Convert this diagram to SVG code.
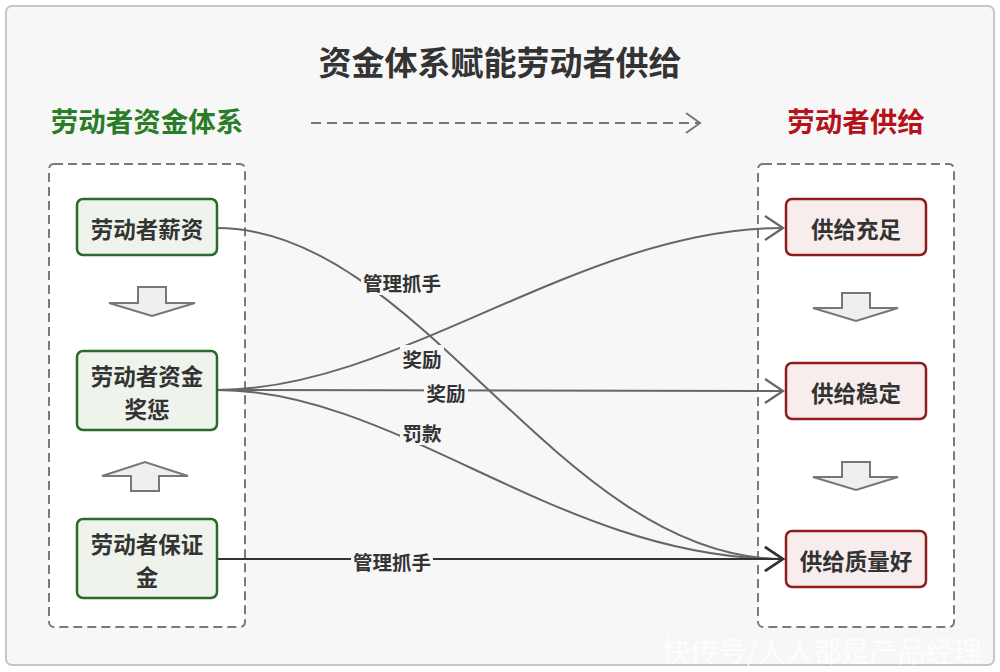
<svg xmlns="http://www.w3.org/2000/svg" width="1000" height="672" viewBox="0 0 1000 672">
<style>
text{font-family:"Noto Sans CJK SC","Noto Sans",sans-serif;font-weight:700;text-anchor:middle;dominant-baseline:central}
.title{font-size:33px;fill:#333}
.hl{font-size:27.5px;fill:#2a7d27}
.hr{font-size:27.5px;fill:#b5121b}
.nt{font-size:22.5px;fill:#333}
.lab{font-size:19.5px;fill:#333}
.cont{fill:#fff;stroke:#7a7a7a;stroke-width:2;stroke-dasharray:9 5}
.gn{fill:#eef3ec;stroke:#2b6a2b;stroke-width:2.5}
.rn{fill:#f8eded;stroke:#8e1c1c;stroke-width:2.5}
.blk{fill:#efefef;stroke:#777;stroke-width:2}
.ln{fill:none;stroke:#666;stroke-width:2}
.lbg{fill:#f7f7f7}
</style>
<defs>
<marker id="ah" markerUnits="userSpaceOnUse" markerWidth="24" markerHeight="30" refX="20" refY="14" orient="auto" viewBox="0 0 24 30">
<path d="M2,2 L20,14 L2,26" fill="none" stroke="#666" stroke-width="2.2"/>
</marker>
<marker id="ahd" markerUnits="userSpaceOnUse" markerWidth="24" markerHeight="30" refX="20" refY="14" orient="auto" viewBox="0 0 24 30">
<path d="M2,2 L20,14 L2,26" fill="none" stroke="#333" stroke-width="2.5"/>
</marker>
<marker id="ahs" markerUnits="userSpaceOnUse" markerWidth="20" markerHeight="26" refX="16" refY="12" orient="auto" viewBox="0 0 20 26">
<path d="M2,2 L16,12 L2,22" fill="none" stroke="#777" stroke-width="2"/>
</marker>
</defs>
<rect x="0" y="0" width="1000" height="672" fill="#fff"/>
<rect x="6" y="6" width="988" height="659" rx="6" fill="#f7f7f7" stroke="#c6c6c6" stroke-width="2"/>
<text class="title" x="500" y="61">资金体系赋能劳动者供给</text>
<text class="hl" x="147" y="120">劳动者资金体系</text>
<text class="hr" x="856" y="120">劳动者供给</text>
<line x1="311" y1="123" x2="700" y2="123" stroke="#777" stroke-width="2" stroke-dasharray="10 6" marker-end="url(#ahs)"/>
<g id="left-container"><rect class="cont" x="49" y="164" width="196" height="463" rx="5"/></g>
<g id="right-container"><rect class="cont" x="758" y="164" width="196" height="463" rx="5"/></g>
<g id="arrows-block">
<path class="blk" d="M138,287 H166 V303 H195 L152,316 L109,303 H138 Z"/>
<path class="blk" d="M131,491 H159 V476 H188 L145,462 L102,476 H131 Z"/>
<path class="blk" d="M842,293 H870 V308 H898 L856,321 L813,308 H842 Z"/>
<path class="blk" d="M842,462 H870 V477 H898 L856,490 L813,477 H842 Z"/>
</g>
<g id="connectors">
<path class="ln" d="M217,228 C420,228 560,559 783,559" marker-end="url(#ah)"/>
<path class="ln" d="M217,390 C400,390 580,228 783,228" marker-end="url(#ah)"/>
<path class="ln" d="M217,390 L783,391" marker-end="url(#ah)"/>
<path class="ln" d="M217,390 C400,390 560,559 783,559" marker-end="url(#ah)"/>
<path d="M217,559 L783,559" fill="none" stroke="#333" stroke-width="2.2" marker-end="url(#ahd)"/>
<rect class="lbg" x="361" y="269" width="82" height="26"/>
<text class="lab" x="402" y="282">管理抓手</text>
<rect class="lbg" x="400" y="345" width="44" height="26"/>
<text class="lab" x="422" y="358">奖励</text>
<rect class="lbg" x="424" y="379" width="44" height="26"/>
<text class="lab" x="446" y="392">奖励</text>
<rect class="lbg" x="400" y="419" width="44" height="26"/>
<text class="lab" x="422" y="432">罚款</text>
<rect class="lbg" x="351" y="548" width="82" height="26"/>
<text class="lab" x="392" y="561">管理抓手</text>
</g>
<g id="n-salary"><rect class="gn" x="77" y="199" width="140" height="56" rx="6"/><text class="nt" x="147" y="228">劳动者薪资</text></g>
<g id="n-reward"><rect class="gn" x="77" y="351" width="140" height="79" rx="6"/><text class="nt" x="147" y="375">劳动者资金</text><text class="nt" x="147" y="408">奖惩</text></g>
<g id="n-deposit"><rect class="gn" x="77" y="519" width="140" height="79" rx="6"/><text class="nt" x="147" y="543">劳动者保证</text><text class="nt" x="147" y="576">金</text></g>
<g id="n-enough"><rect class="rn" x="786" y="199" width="140" height="56" rx="6"/><text class="nt" x="856" y="228">供给充足</text></g>
<g id="n-stable"><rect class="rn" x="786" y="363" width="140" height="56" rx="6"/><text class="nt" x="856" y="392">供给稳定</text></g>
<g id="n-quality"><rect class="rn" x="786" y="531" width="140" height="56" rx="6"/><text class="nt" x="856" y="560">供给质量好</text></g>
<text x="822" y="650" style="font-size:28px;font-weight:400;fill:#fff;fill-opacity:0.85">快传号/人人都是产品经理</text>
</svg>
